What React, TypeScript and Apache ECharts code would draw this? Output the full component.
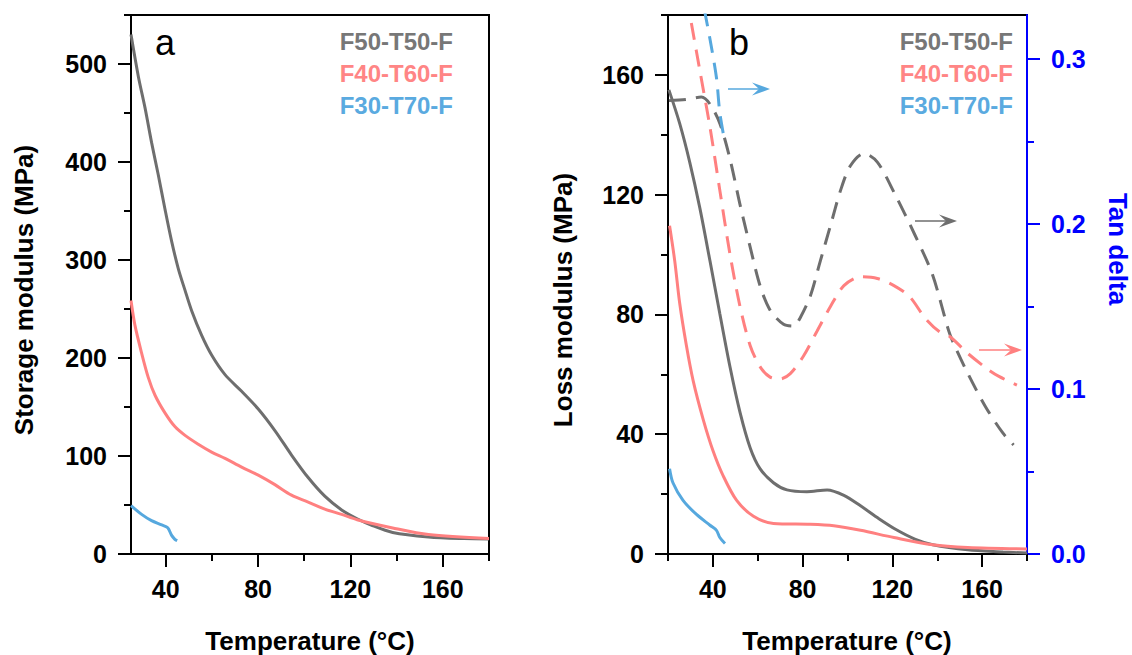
import React, { useEffect, useRef } from 'react';
import * as echarts from 'echarts';

const FONT = '"Liberation Sans", Arial, Helvetica, sans-serif';
const GRAY = '#6e6e6e';
const RED = '#ff8080';
const BLUE = '#56a8de';
const TAN_BLUE = '#0000ff';

const seriesNames = ['F50-T50-F', 'F40-T60-F', 'F30-T70-F'];
const legendColors = ['#777777', '#ff8585', '#5aaae0'];

// Panel a: storage modulus (MPa) vs temperature (°C)
const storageF50 = [[25,530],[28.2,487],[31.1,455],[33.9,420],[36.8,387],[39.7,352],[42.6,319],[45.5,291],[48.4,269],[51.3,248],[55.6,223],[59.9,203],[65.7,183],[72.9,166],[80.1,148],[87.3,126],[94.5,101],[101.7,78],[108.9,59],[116.2,45],[122.9,36],[129,29.5],[138.3,22],[153.8,17.4],[169.2,15.7],[180,15.3]];
const storageF40 = [[25,258.6],[26.7,233.5],[29.6,205],[32.5,180],[35.4,162],[39.7,144],[44,130],[48.4,121],[54.1,112],[59.9,104],[65.7,97.6],[72.9,88.7],[80.1,80.5],[87.3,70.8],[94.5,60],[101.7,53],[108.9,45.8],[116.2,40.4],[122.9,35],[138.3,26.6],[153.8,19.8],[180,15.7]];
const storageF30 = [[25,49.4],[29.6,40.4],[33.9,34],[38.3,29.7],[40.9,26.8],[42.6,19],[44,15],[45,13.6]];

// Panel b: loss modulus (MPa)
const lossF50 = [[20.4,155],[25.2,143.8],[29.7,130.8],[34.2,115.5],[38.7,97.9],[43.1,80.2],[47.6,62.6],[52.1,47.3],[56.6,35.5],[61,28.5],[67,23.8],[73,21.4],[81.9,20.8],[90.9,21.4],[98.4,19.6],[105.8,16.1],[114,11.8],[122,8],[130,5],[138,3.1],[153.6,1.4],[169.3,0.7],[180,0.3]];
const lossF40 = [[20.7,109.6],[23,97.9],[25.2,83.8],[28.2,69.6],[31.2,57.9],[35.7,44.9],[40.1,34.4],[44.6,26.1],[50.6,17.9],[58.1,12.6],[67,10.2],[83.4,9.9],[93.9,9.4],[105.8,7.9],[120.7,5.5],[137.9,3.1],[153.6,2.2],[180,1.7]];
const lossF30 = [[20.7,28.5],[22.2,23.8],[26.7,17.9],[32.7,13.2],[38.7,9.6],[41.6,7.9],[43.1,5.5],[45.4,3.5]];

// Panel b: tan delta (right axis)
const tanF50 = [[20.4,0.2748],[28,0.2755],[34.9,0.277],[38.7,0.2727],[43.1,0.261],[47.6,0.2396],[52.1,0.2118],[56.6,0.1862],[61,0.1627],[65.5,0.1478],[71.5,0.1392],[76,0.1381],[79,0.1434],[83.4,0.1563],[87.9,0.1777],[92.4,0.199],[96.9,0.2204],[101.3,0.2353],[107.3,0.2428],[113.3,0.2375],[121,0.2185],[130,0.1935],[137.9,0.1692],[145,0.1357],[147.3,0.1276],[153.6,0.1095],[161.5,0.0893],[169.3,0.0732],[174,0.0661]];
const tanF40 = [[30.4,0.3218],[34.2,0.293],[38.7,0.2588],[43.1,0.2204],[47.6,0.1819],[52.1,0.15],[56.6,0.1264],[61,0.1136],[65.5,0.1072],[70,0.1061],[74.5,0.1093],[80.4,0.12],[86.4,0.135],[92.4,0.15],[98.4,0.1627],[105.8,0.168],[113.3,0.167],[120.7,0.1627],[127.7,0.156],[134.7,0.1428],[141,0.1347],[145.7,0.1317],[153.6,0.1216],[163,0.1115],[167.7,0.1075],[175.5,0.1024]];
const tanF30 = [[36.2,0.33],[38.7,0.3122],[41.6,0.2887],[43.1,0.2674],[45.4,0.2492]];

// Tick values
const xTicksMajor = [40, 80, 120, 160];
const xTicksMinorA = [60, 100, 140, 180];
const xTicksMinorB = [20, 60, 100, 140, 180];
const yTicksA = [0, 100, 200, 300, 400, 500];
const yTicksMinorA = [50, 150, 250, 350, 450, 550];
const yTicksB = [0, 40, 80, 120, 160];
const yTicksMinorB = [20, 60, 100, 140, 180];
const tanTicks = [0, 0.1, 0.2, 0.3];
const tanTicksMinor = [0.05, 0.15, 0.25];

const labelFont = { fontSize: 25, fontWeight: 'bold' as const, fontFamily: FONT };

function xAxis(grid: number, min: number, max: number, ticks: number[], major: boolean) {
  return {
    type: 'value', gridIndex: grid, min, max, position: 'bottom',
    axisLine: { show: major, onZero: false, lineStyle: { color: '#000', width: 2 } },
    axisTick: { show: true, customValues: ticks, length: major ? 13 : 7, lineStyle: { color: '#000', width: 2 } },
    axisLabel: major ? { show: true, customValues: ticks, margin: 22, color: '#000', ...labelFont } : { show: false },
    splitLine: { show: false },
  };
}

function yAxis(grid: number, min: number, max: number, ticks: number[], major: boolean, pos: string, color: string, fmt?: (v: number) => string) {
  return {
    type: 'value', gridIndex: grid, min, max, position: pos,
    axisLine: { show: major, onZero: false, lineStyle: { color, width: 2 } },
    axisTick: { show: true, customValues: ticks, length: major ? 13 : 7, lineStyle: { color, width: 2 } },
    axisLabel: major ? { show: true, customValues: ticks, margin: 24, color, ...labelFont, formatter: fmt } : { show: false },
    splitLine: { show: false },
  };
}

function line(name: string, data: number[][], color: string, xi: number, yi: number, dashed: boolean) {
  return {
    type: 'line', name, data, xAxisIndex: xi, yAxisIndex: yi,
    showSymbol: false, symbol: 'none', smooth: 0.3, clip: true,
    lineStyle: { color, width: 3, type: dashed ? [17, 10] : 'solid' },
    z: 3,
  };
}

function text(t: string, x: number, y: number, fill: string, opts: any = {}) {
  return {
    type: 'text', x, y, rotation: opts.rotation || 0, z: 10,
    style: {
      text: t, x: 0, y: 0, fill,
      align: opts.align || 'center', verticalAlign: opts.verticalAlign || 'middle',
      fontSize: opts.fontSize || 26, fontWeight: opts.fontWeight || 'bold', fontFamily: FONT,
    },
  };
}

function arrow(x1: number, x2: number, y: number, color: string) {
  return [
    { type: 'line', z: 10, shape: { x1, y1: y, x2: x2 - 8, y2: y }, style: { stroke: color, lineWidth: 1.5 } },
    { type: 'polygon', z: 10, shape: { points: [[x2, y], [x2 - 18, y - 6.5], [x2 - 11, y], [x2 - 18, y + 6.5]] }, style: { fill: color } },
  ];
}

export default function App() {
  const ref = useRef<HTMLDivElement>(null);
  useEffect(() => {
    const chart = echarts.init(ref.current!, null, { renderer: 'svg' });
    const legendA = seriesNames.map((n, i) => text(n, 453, 41 + i * 32, legendColors[i], { align: 'right', fontSize: 24 }));
    const legendB = seriesNames.map((n, i) => text(n, 1013, 41 + i * 32, legendColors[i], { align: 'right', fontSize: 24 }));
    const option: any = {
      animation: false,
      backgroundColor: '#ffffff',
      grid: [
        { left: 131, top: 15, width: 358, height: 539, show: true, borderColor: '#000', borderWidth: 2, backgroundColor: 'transparent' },
        { left: 668, top: 15, width: 359, height: 539, show: true, borderColor: '#000', borderWidth: 2, backgroundColor: 'transparent' },
      ],
      xAxis: [
        xAxis(0, 25, 180, xTicksMajor, true),
        xAxis(0, 25, 180, xTicksMinorA, false),
        xAxis(1, 20, 180, xTicksMajor, true),
        xAxis(1, 20, 180, xTicksMinorB, false),
      ],
      yAxis: [
        yAxis(0, 0, 550, yTicksA, true, 'left', '#000'),
        yAxis(0, 0, 550, yTicksMinorA, false, 'left', '#000'),
        yAxis(1, 0, 180, yTicksB, true, 'left', '#000'),
        yAxis(1, 0, 180, yTicksMinorB, false, 'left', '#000'),
        yAxis(1, 0, 0.3267, tanTicks, true, 'right', TAN_BLUE, (v: number) => v.toFixed(1)),
        yAxis(1, 0, 0.3267, tanTicksMinor, false, 'right', TAN_BLUE),
      ],
      series: [
        line(seriesNames[0], storageF50, GRAY, 0, 0, false),
        line(seriesNames[1], storageF40, RED, 0, 0, false),
        line(seriesNames[2], storageF30, BLUE, 0, 0, false),
        line(seriesNames[0], lossF50, GRAY, 2, 2, false),
        line(seriesNames[1], lossF40, RED, 2, 2, false),
        line(seriesNames[2], lossF30, BLUE, 2, 2, false),
        line(seriesNames[0] + ' tan', tanF50, GRAY, 2, 4, true),
        line(seriesNames[1] + ' tan', tanF40, RED, 2, 4, true),
        line(seriesNames[2] + ' tan', tanF30, BLUE, 2, 4, true),
      ],
      graphic: [
        text('Storage modulus (MPa)', 24, 290, '#000', { rotation: Math.PI / 2 }),
        text('Loss modulus (MPa)', 563, 300, '#000', { rotation: Math.PI / 2 }),
        text('Tan delta', 1118, 249, TAN_BLUE, { rotation: -Math.PI / 2 }),
        text('Temperature (°C)', 310, 641, '#000'),
        text('Temperature (°C)', 847, 641, '#000'),
        text('a', 155, 42, '#000', { align: 'left', fontSize: 36, fontWeight: 'normal' }),
        text('b', 729, 42, '#000', { align: 'left', fontSize: 36, fontWeight: 'normal' }),
        ...legendA,
        ...legendB,
        ...arrow(728, 770, 89, BLUE),
        ...arrow(915, 957, 221, GRAY),
        ...arrow(979, 1022, 350, RED),
      ],
    };
    chart.setOption(option);
    return () => chart.dispose();
  }, []);
  return <div ref={ref} style={{ position: 'fixed', left: 0, top: 0, width: 1132, height: 655, background: '#fff' }} />;
}
